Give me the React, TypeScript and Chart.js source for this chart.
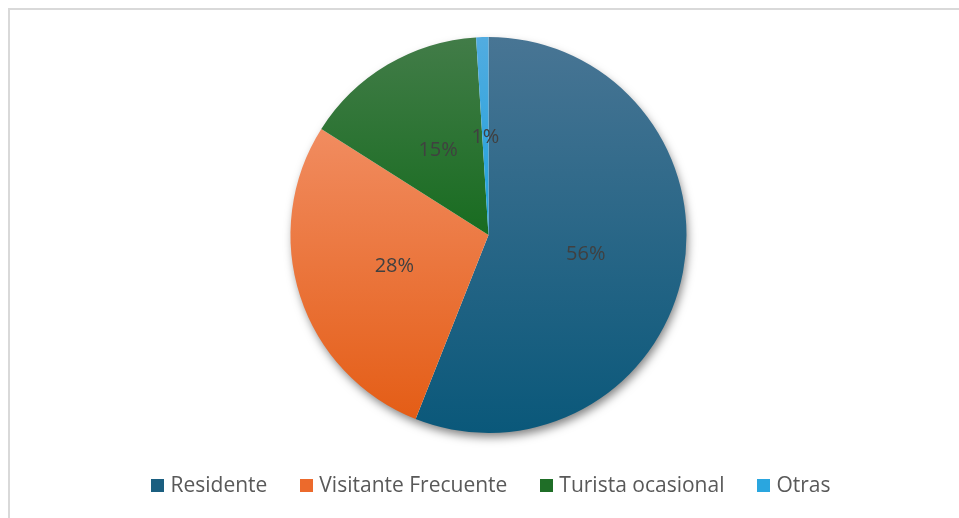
import React, { useEffect, useRef } from "react";
import { Chart, registerables } from "chart.js";

Chart.register(...registerables);

const categories = ["Residente", "Visitante Frecuente", "Turista ocasional", "Otras"];
const values = [56, 28, 15, 1];
const labels = ["56%", "28%", "15%", "1%"];
const gradTop = ["rgb(72,117,148)", "rgb(241,140,96)", "rgb(66,124,72)", "rgb(82,172,224)"];
const gradBottom = ["rgb(10,88,122)", "rgb(228,93,22)", "rgb(24,108,32)", "rgb(28,160,220)"];
const legendColors = ["#1b5f80", "#ec6a2c", "#1f6e27", "#2aa6df"];

const RADIUS = 198;

function sliceBBox(cx: number, cy: number, r: number, a0: number, a1: number) {
  const pts: number[][] = [[cx, cy]];
  const pt = (a: number) => [cx + r * Math.sin(a), cy - r * Math.cos(a)];
  pts.push(pt(a0), pt(a1));
  for (let k = 0; k <= 4; k++) {
    const a = (k * Math.PI) / 2;
    if (a > a0 && a < a1) pts.push(pt(a));
  }
  const ys = pts.map((p) => p[1]);
  return { top: Math.min(...ys), bottom: Math.max(...ys) };
}

const shadowPlugin = {
  id: "pieShadow",
  beforeDatasetsDraw(chart: any) {
    const meta = chart.getDatasetMeta(0);
    const arc = meta.data[0];
    if (!arc) return;
    const { ctx } = chart;
    ctx.save();
    ctx.shadowColor = "rgba(0,0,0,0.5)";
    ctx.shadowBlur = 10;
    ctx.shadowOffsetX = 2;
    ctx.shadowOffsetY = 5;
    ctx.fillStyle = "#ffffff";
    ctx.beginPath();
    ctx.arc(arc.x, arc.y, arc.outerRadius - 1, 0, Math.PI * 2);
    ctx.fill();
    ctx.restore();
  },
};

const labelPlugin = {
  id: "pieLabels",
  afterDatasetsDraw(chart: any) {
    const meta = chart.getDatasetMeta(0);
    const { ctx } = chart;
    ctx.save();
    ctx.font = "20px 'Open Sans'";
    ctx.fillStyle = "#404040";
    ctx.textAlign = "center";
    ctx.textBaseline = "middle";
    meta.data.forEach((arc: any, i: number) => {
      const p = arc.getCenterPoint();
      ctx.fillText(labels[i], p.x, p.y + 1);
    });
    ctx.restore();
  },
};

const LEGEND_Y = 475;
const LEGEND_CX = 481;
const BOX = 13;
const BOX_GAP = 6;
const ITEM_GAP = 33;

const legendPlugin = {
  id: "customLegend",
  afterDraw(chart: any) {
    const { ctx } = chart;
    ctx.save();
    ctx.font = "21px 'Open Sans'";
    ctx.textBaseline = "middle";
    ctx.textAlign = "left";
    const widths = categories.map((c) => ctx.measureText(c).width);
    const total =
      widths.reduce((a, b) => a + b, 0) + categories.length * (BOX + BOX_GAP) + (categories.length - 1) * ITEM_GAP;
    let x = LEGEND_CX - total / 2;
    categories.forEach((c, i) => {
      ctx.fillStyle = legendColors[i];
      ctx.fillRect(Math.round(x), Math.round(LEGEND_Y - BOX / 2), BOX, BOX);
      x += BOX + BOX_GAP;
      ctx.fillStyle = "#595959";
      ctx.fillText(c, x, LEGEND_Y + 1);
      x += widths[i] + ITEM_GAP;
    });
    ctx.restore();
  },
};

export default function App() {
  const ref = useRef<HTMLCanvasElement | null>(null);
  useEffect(() => {
    const total = values.reduce((a, b) => a + b, 0);
    const chart = new Chart(ref.current!, {
      type: "pie",
      data: {
        labels: categories,
        datasets: [
          {
            data: values,
            borderWidth: 0,
            backgroundColor: (context: any) => {
              const chart = context.chart;
              const area = chart.chartArea;
              const i = context.dataIndex;
              if (!area || i === undefined) return legendColors[i ?? 0];
              const cx = (area.left + area.right) / 2;
              const cy = (area.top + area.bottom) / 2;
              let start = 0;
              for (let k = 0; k < i; k++) start += values[k];
              const a0 = (start / total) * Math.PI * 2;
              const a1 = ((start + values[i]) / total) * Math.PI * 2;
              const bb = sliceBBox(cx, cy, RADIUS, a0, a1);
              const g = chart.ctx.createLinearGradient(0, bb.top, 0, bb.bottom);
              g.addColorStop(0, gradTop[i]);
              g.addColorStop(1, gradBottom[i]);
              return g;
            },
          },
        ],
      },
      options: {
        animation: false,
        responsive: false,
        radius: RADIUS,
        layout: { padding: { top: 20, bottom: 78, left: 8, right: 0 } },
        plugins: {
          tooltip: { enabled: false },
          legend: { display: false },
        },
      } as any,
      plugins: [shadowPlugin, labelPlugin, legendPlugin],
    });
    return () => chart.destroy();
  }, []);

  return (
    <div
      style={{
        position: "fixed",
        left: 8,
        top: 8,
        width: 1000,
        height: 560,
        boxSizing: "border-box",
        borderTop: "2px solid #d9d9d9",
        borderLeft: "2px solid #d9d9d9",
        background: "#ffffff",
        overflow: "hidden",
      }}
    >
      <canvas ref={ref} width={949} height={508} style={{ display: "block", width: 949, height: 508 }} />
    </div>
  );
}
